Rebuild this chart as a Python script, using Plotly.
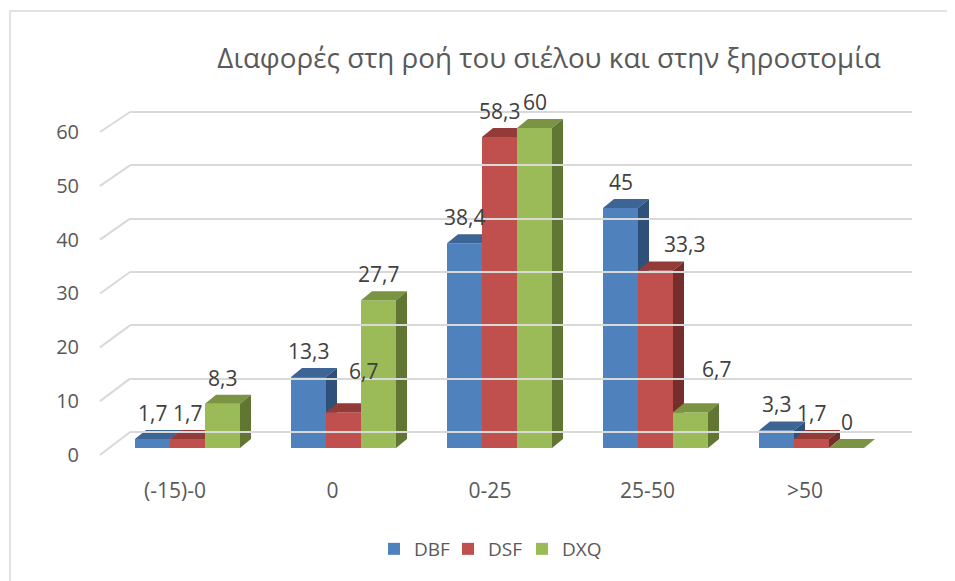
import plotly.graph_objects as go

# ---------------- data ----------------
categories = ["(-15)-0", "0", "0-25", "25-50", ">50"]
series_names = ["DBF", "DSF", "DXQ"]
dbf = [1.7, 13.3, 38.4, 45, 3.3]
dsf = [1.7, 6.7, 58.3, 33.3, 1.7]
dxq = [8.3, 27.7, 60, 6.7, 0]
y_ticks = [0, 10, 20, 30, 40, 50, 60]
title_text = "Διαφορές στη ροή του σιέλου και στην ξηροστομία"

# ---------------- styling ----------------
W, H = 955, 581
OFF = 8  # page body margin
front_cols = ["#4F81BD", "#C0504D", "#9BBB59"]
top_cols = ["#3C6595", "#923B39", "#7A9444"]
side_cols = ["#2F5179", "#762E2C", "#627634"]
grid_col = "#D9D9D9"
txt_col = "#595959"
lbl_col = "#404040"
FONT = "Open Sans"

# manual data-label nudges in pixels (series index, category index) -> (dx, dy)
label_nudge = {(1, 1): (20, -15), (1, 3): (29, 0), (2, 3): (26, -17)}

def xp(px):
    return (px - OFF) / W

def yp(px):
    return 1 - (px - OFF) / H

K = 320 / 60.0
Y0 = 448
CX0, CS = 187.5, 156.0
def bar_ypx(v):
    return Y0 - K * v
def bar_xpx(x):
    return CX0 + CS * x

yr = [-3, 67]
xr = [(OFF + 0.5 - CX0) / CS, (OFF + W - 0.5 - CX0) / CS]

bw = 35 / CS
ddx = 11 / CS
ddy = 9 / K

fig = go.Figure()

all_vals = [dbf, dsf, dxq]
for s, vals in enumerate(all_vals):
    fx, fy, tx, ty, sx, sy = [], [], [], [], [], []
    for i, v in enumerate(vals):
        x0 = i + (s - 1.5) * bw
        x1 = x0 + bw
        fx += [x0, x1, x1, x0, x0, None]
        fy += [0, 0, v, v, 0, None]
        tx += [x0, x1, x1 + ddx, x0 + ddx, x0, None]
        ty += [v, v, v + ddy, v + ddy, v, None]
        sx += [x1, x1 + ddx, x1 + ddx, x1, x1, None]
        sy += [0, ddy, v + ddy, v, 0, None]
    for xs, ys, col in [(fx, fy, front_cols[s]), (tx, ty, top_cols[s]), (sx, sy, side_cols[s])]:
        fig.add_trace(go.Scatter(x=xs, y=ys, mode="lines", fill="toself",
                                 fillcolor=col, line=dict(width=0, color=col),
                                 showlegend=False, hoverinfo="skip"))

# data labels
for s, vals in enumerate(all_vals):
    for i, v in enumerate(vals):
        ndx, ndy = label_nudge.get((s, i), (0, 0))
        fig.add_annotation(x=i + (s - 1.0) * bw, y=v + ddy, xref="x", yref="y",
                           text=f"{v:g}".replace(".", ","), showarrow=False,
                           yanchor="bottom", yshift=1 - ndy, xshift=ndx,
                           font=dict(family=FONT, size=21, color=lbl_col))

# legend entries
for s, name in enumerate(series_names):
    fig.add_trace(go.Bar(x=[None], y=[None], name=name,
                         marker=dict(color=front_cols[s], line=dict(width=0))))
# invisible spacer entry so the last legend text is not clipped
fig.add_trace(go.Bar(x=[None], y=[None], name="\u00a0",
                     marker=dict(color="rgba(0,0,0,0)", line=dict(width=0))))

BACK0, BACK60 = 432, 112
BK = (BACK0 - BACK60) / 60.0
g_r = [-1, 61]
def back_ypx(v):
    return BACK0 - BK * v

FR0, FR60 = 455, 132
FK = (FR0 - FR60) / 60.0
t_r = [-1, 61]
def front_ypx(v):
    return FR0 - FK * v

LX0, LS = 175.0, 157.5
l_r = [(OFF - LX0) / LS, (OFF + W - LX0) / LS]

fig.update_layout(
    width=W, height=H,
    margin=dict(l=0, r=0, t=0, b=0, autoexpand=False),
    paper_bgcolor="white", plot_bgcolor="rgba(0,0,0,0)",
    title=dict(text=title_text, x=xp(549), xanchor="center", y=yp(58), yanchor="middle",
               font=dict(family=FONT, size=27.8, color=txt_col)),
    showlegend=True,
    legend=dict(orientation="h", x=xp(522), xanchor="center", y=yp(549), yanchor="middle",
                entrywidth=29, entrywidthmode="pixels",
                font=dict(family=FONT, size=19, color=txt_col), itemclick=False),
    xaxis=dict(domain=[xp(bar_xpx(xr[0])), xp(bar_xpx(xr[1]))], range=xr,
               showgrid=False, zeroline=False, showticklabels=False, showline=False),
    yaxis=dict(domain=[yp(bar_ypx(yr[0])), yp(bar_ypx(yr[1]))], range=yr,
               showgrid=False, zeroline=False, showticklabels=False, showline=False),
    xaxis2=dict(domain=[xp(130), xp(912)], range=[0, 1], anchor="y2",
                showgrid=False, zeroline=False, showticklabels=False),
    yaxis2=dict(domain=[yp(back_ypx(g_r[0])), yp(back_ypx(g_r[1]))], range=g_r, anchor="x2",
                tickvals=y_ticks, showgrid=True, gridcolor=grid_col, gridwidth=2,
                zeroline=False, showticklabels=False),
    yaxis3=dict(domain=[yp(front_ypx(t_r[0])), yp(front_ypx(t_r[1]))], range=t_r,
                anchor="free", position=xp(79), side="left",
                tickvals=y_ticks, ticktext=[str(t) for t in y_ticks],
                showgrid=False, zeroline=False, showline=False,
                tickfont=dict(family=FONT, size=20, color=txt_col)),
    xaxis3=dict(domain=[0, 1], range=l_r, anchor="free", position=yp(476), side="bottom",
                tickvals=list(range(len(categories))), ticktext=categories,
                showgrid=False, zeroline=False, showline=False,
                tickfont=dict(family=FONT, size=21, color=txt_col)),
)

fig.add_trace(go.Scatter(x=[0], y=[0], xaxis="x2", yaxis="y2", mode="markers",
                         marker=dict(opacity=0), showlegend=False, hoverinfo="skip"))
fig.add_trace(go.Scatter(x=[0], y=[0], xaxis="x3", yaxis="y3", mode="markers",
                         marker=dict(opacity=0), showlegend=False, hoverinfo="skip"))

for t in y_ticks:
    fig.add_shape(type="line", xref="paper", yref="paper",
                  x0=xp(100), y0=yp(front_ypx(t)), x1=xp(130), y1=yp(back_ypx(t)),
                  line=dict(color=grid_col, width=2), layer="below")

fig.add_shape(type="rect", xref="paper", yref="paper",
              x0=xp(10), y0=yp(H + 20), x1=xp(W + 20), y1=yp(11),
              line=dict(color=grid_col, width=1.5), layer="below")

fig.write_html("out.html")
